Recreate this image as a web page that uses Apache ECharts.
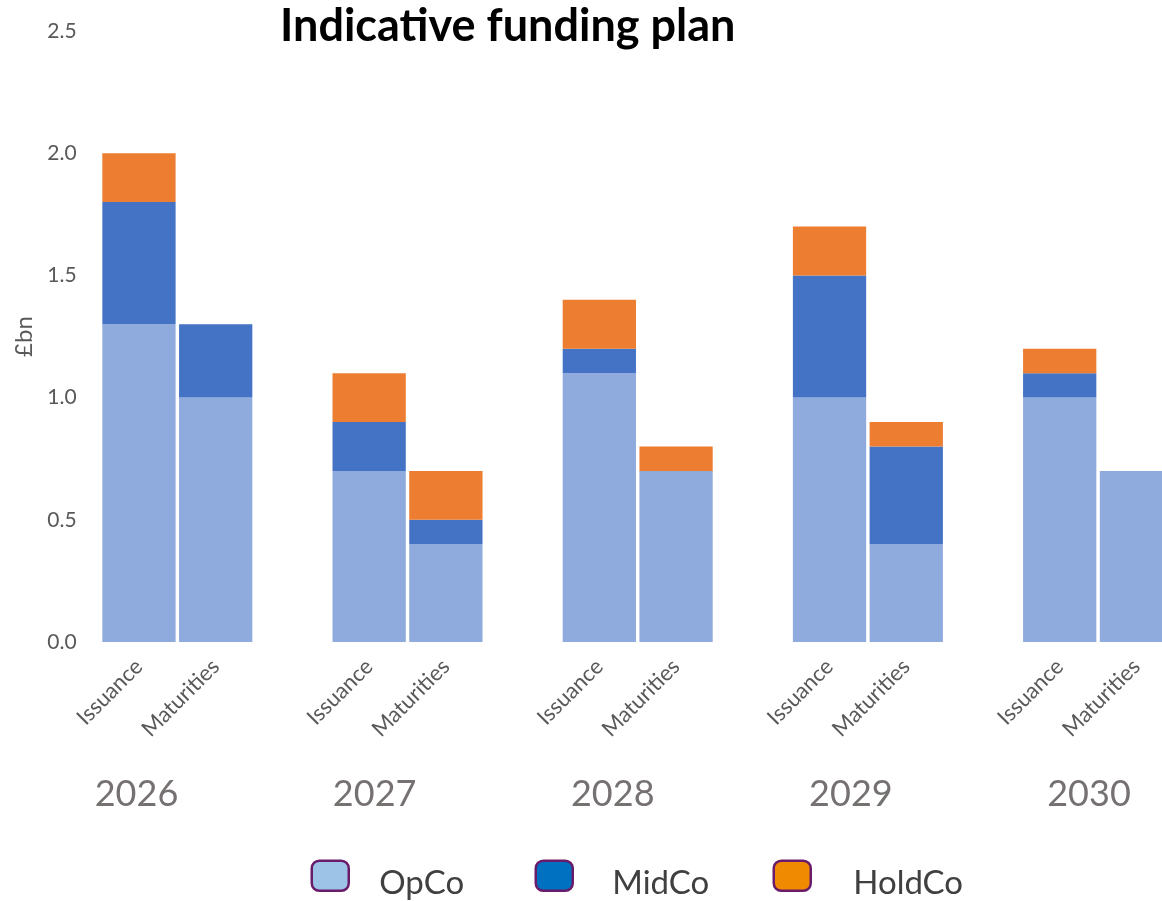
<!DOCTYPE html>
<html>
<head>
<meta charset="utf-8">
<title>Indicative funding plan</title>
<script src="https://cdn.jsdelivr.net/npm/echarts@6/dist/echarts.min.js"></script>
<style>
  html, body { margin: 0; padding: 0; background: #ffffff; overflow: hidden; }
  /* The plot runs slightly past the right edge of the page, so the canvas is a little wider */
  #chart { width: 1176px; height: 901px; }
</style>
</head>
<body>
<div id="chart"></div>
<script>
// Funding plan by year: an Issuance bar and a Maturities bar per year, stacked by entity (£bn)
const years = ['2026', '2027', '2028', '2029', '2030'];
const barKinds = ['Issuance', 'Maturities'];

// Values in year order, Issuance then Maturities for each year
const opco   = [1.3, 1.0,  0.7, 0.4,  1.1, 0.7,  1.0, 0.4,  1.0, 0.7];
const midco  = [0.5, 0.3,  0.2, 0.1,  0.1, 0.0,  0.5, 0.4,  0.1, 0.0];
const holdco = [0.2, 0.0,  0.2, 0.2,  0.2, 0.1,  0.2, 0.1,  0.1, 0.0];

const yTicks = [0, 0.5, 1.0, 1.5, 2.0, 2.5];

const seriesNames = ['OpCo', 'MidCo', 'HoldCo'];
const barColors = ['#8FAADC', '#4472C4', '#ED7D31'];
const legendColors = ['#9DC3E6', '#0070C0', '#F08A00'];

const FONT = 'Lato';

// Category slots: Issuance, Maturities, then an empty spacer slot between years
const slots = [];
const slotIndex = []; // slot -> index into value arrays, or -1 for a spacer
years.forEach((y, yi) => {
  barKinds.forEach((k, ki) => {
    slots.push(k);
    slotIndex.push(yi * barKinds.length + ki);
  });
  if (yi < years.length - 1) {
    slots.push('');
    slotIndex.push(-1);
  }
});

function toSlots(values) {
  return slotIndex.map(i => (i < 0 || values[i] === 0) ? '-' : values[i]);
}

const valueSets = [opco, midco, holdco];

const chart = echarts.init(document.getElementById('chart'), null, { renderer: 'canvas' });

const labelGrey = '#595959';

// Legend entries sit at their own positions along the bottom
const legendLeft = [310.5, 534.5, 772.5];
const legendTextGap = [25.5, 34.5, 37.5];

const option = {
  animation: false,
  backgroundColor: '#ffffff',
  title: {
    text: 'Indicative funding plan',
    left: 280,
    top: 4,
    padding: 0,
    textStyle: {
      fontFamily: FONT,
      fontWeight: 'bold',
      fontSize: 45,
      color: '#000000'
    }
  },
  legend: seriesNames.map((name, i) => ({
    data: [{
      name: name,
      itemStyle: {
        color: legendColors[i],
        borderColor: '#6A1B6A',
        borderWidth: 2.5
      }
    }],
    left: legendLeft[i],
    top: 859.5,
    padding: 0,
    icon: 'roundRect',
    itemWidth: 37,
    itemHeight: 30,
    selectedMode: false,
    formatter: n => '{t|' + n + '}',
    textStyle: {
      rich: {
        t: {
          fontFamily: FONT,
          fontSize: 33,
          color: '#404040',
          padding: [16, 0, 0, legendTextGap[i]]
        }
      }
    }
  })),
  grid: [
    { left: 100.6, top: 31, width: 1074.2, height: 611, containLabel: false },
    { left: 136.5, top: 31, width: 952.5, height: 611, containLabel: false }
  ],
  xAxis: [
    {
      type: 'category',
      gridIndex: 0,
      data: slots,
      axisLine: { show: false },
      axisTick: { show: false },
      axisLabel: {
        interval: 0,
        rotate: 45,
        margin: 21,
        fontFamily: FONT,
        fontSize: 22,
        color: labelGrey
      }
    },
    {
      type: 'category',
      gridIndex: 1,
      data: years,
      boundaryGap: false,
      axisLine: { show: false },
      axisTick: { show: false },
      axisLabel: {
        interval: 0,
        margin: 134,
        fontFamily: FONT,
        fontSize: 36,
        color: '#767171'
      }
    }
  ],
  yAxis: [
    {
      type: 'value',
      gridIndex: 0,
      min: yTicks[0],
      max: yTicks[yTicks.length - 1],
      interval: 0.5,
      name: '£bn',
      nameLocation: 'middle',
      nameGap: 64,
      nameTextStyle: {
        fontFamily: FONT,
        fontSize: 24,
        color: labelGrey
      },
      axisLine: { show: false },
      axisTick: { show: false },
      splitLine: { show: false },
      axisLabel: {
        margin: 24,
        fontFamily: FONT,
        fontSize: 21,
        color: labelGrey,
        formatter: v => v.toFixed(1)
      }
    },
    {
      type: 'value',
      gridIndex: 1,
      show: false,
      splitLine: { show: false }
    }
  ],
  series: seriesNames.map((name, i) => ({
    name: name,
    type: 'bar',
    stack: 'total',
    xAxisIndex: 0,
    yAxisIndex: 0,
    barWidth: '95.5%',
    itemStyle: { color: barColors[i] },
    emphasis: { disabled: true },
    data: toSlots(valueSets[i])
  }))
};

chart.setOption(option);
</script>
</body>
</html>
